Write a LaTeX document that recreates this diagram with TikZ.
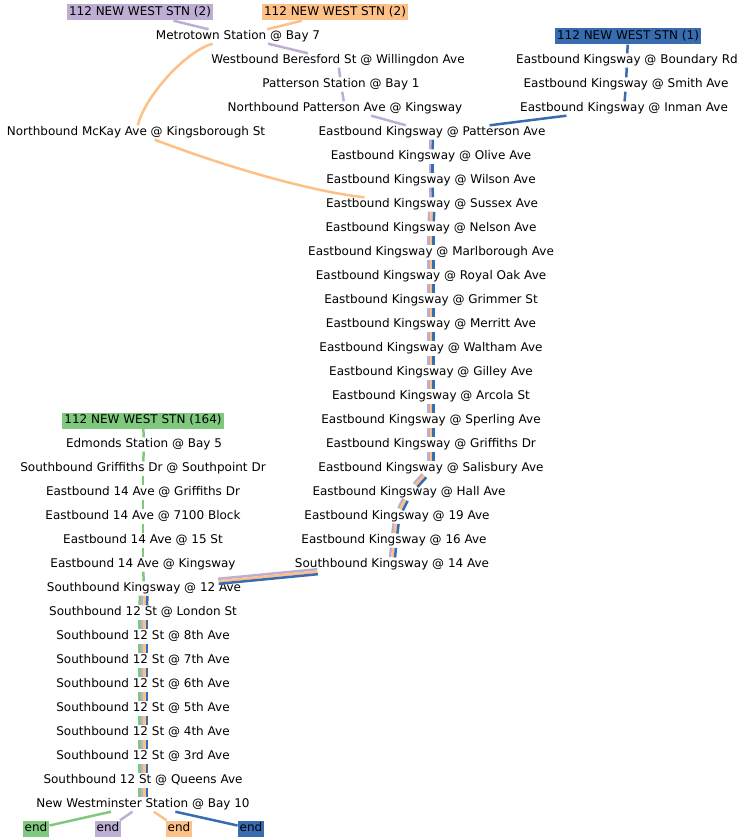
\documentclass[tikz,border=0pt]{standalone}
\usepackage{fontspec}
\setmainfont{DejaVu Sans}
\definecolor{routegreen}{HTML}{7FC97F}
\definecolor{routepurple}{HTML}{BEAED4}
\definecolor{routeorange}{HTML}{FDC086}
\definecolor{routeblue}{HTML}{386CB0}

% #1 stripes, #2 colours, #3 from, #4 to
\newcommand{\routeedge}[4]{%
  \pgfpointdiff{\pgfpointanchor{#3}{center}}{\pgfpointanchor{#4}{center}}%
  \pgfgetlastxy{\routedx}{\routedy}%
  \pgfmathsetmacro{\perpangle}{atan2(\routedy,\routedx)+90}%
  \foreach \routecolor [count=\k] in {#2} {
    \pgfmathsetmacro{\stripeoff}{(\k-(#1+1)/2)*2.5}
    \draw[route=\routecolor,transform canvas={shift={(\perpangle:\stripeoff pt)}}] (#3) -- (#4);
  }%
}

\begin{document}
\begin{tikzpicture}[x=1pt,y=-1pt,
    stop/.style={font=\fontsize{12}{14}\selectfont,text height=9pt,text depth=3pt,inner xsep=2pt,inner ysep=1pt},
    terminus/.style={stop,fill=#1,inner ysep=2pt},
    route/.style={draw=#1,line width=2.5pt}]
  \useasboundingbox (0,-1.5) rectangle (746,838.5);

  % route heads
  \node[terminus=routepurple] (boxP) at (140,11) {112 NEW WEST STN (2)};
  \node[terminus=routeorange] (boxO) at (335,11) {112 NEW WEST STN (2)};
  \node[terminus=routeblue] (boxB) at (628,35) {112 NEW WEST STN (1)};
  \node[terminus=routegreen] (boxG) at (143,419) {112 NEW WEST STN (164)};

  \foreach \name/\x/\y/\stoplabel in {
    metrotown/238/35/Metrotown Station @ Bay 7,
    beresford/338/59/Westbound Beresford St @ Willingdon Ave,
    boundary/627/59/Eastbound Kingsway @ Boundary Rd,
    pattersonstn/341/83/Patterson Station @ Bay 1,
    smith/626/83/Eastbound Kingsway @ Smith Ave,
    nbpatterson/345/107/Northbound Patterson Ave @ Kingsway,
    inman/624/107/Eastbound Kingsway @ Inman Ave,
    mckay/136/131/Northbound McKay Ave @ Kingsborough St,
    ekpatterson/432/131/Eastbound Kingsway @ Patterson Ave,
    olive/431/155/Eastbound Kingsway @ Olive Ave,
    wilson/431/179/Eastbound Kingsway @ Wilson Ave,
    sussex/432/203/Eastbound Kingsway @ Sussex Ave,
    nelson/431/227/Eastbound Kingsway @ Nelson Ave,
    marlborough/431/251/Eastbound Kingsway @ Marlborough Ave,
    royaloak/431/275/Eastbound Kingsway @ Royal Oak Ave,
    grimmer/431/299/Eastbound Kingsway @ Grimmer St,
    merritt/431/323/Eastbound Kingsway @ Merritt Ave,
    waltham/431/347/Eastbound Kingsway @ Waltham Ave,
    gilley/431/371/Eastbound Kingsway @ Gilley Ave,
    arcola/431/395/Eastbound Kingsway @ Arcola St,
    sperling/431/419/Eastbound Kingsway @ Sperling Ave,
    griffithsdr/431/443/Eastbound Kingsway @ Griffiths Dr,
    edmonds/144/443/Edmonds Station @ Bay 5,
    salisbury/431/467/Eastbound Kingsway @ Salisbury Ave,
    southpoint/143/467/Southbound Griffiths Dr @ Southpoint Dr,
    hall/409/491/Eastbound Kingsway @ Hall Ave,
    griffiths14/143/491/Eastbound 14 Ave @ Griffiths Dr,
    ave19/397/515/Eastbound Kingsway @ 19 Ave,
    block7100/143/515/Eastbound 14 Ave @ 7100 Block,
    ave16/394/539/Eastbound Kingsway @ 16 Ave,
    st15/143/539/Eastbound 14 Ave @ 15 St,
    sbk14/392/563/Southbound Kingsway @ 14 Ave,
    kingsway14/143/563/Eastbound 14 Ave @ Kingsway,
    sbk12/144/587/Southbound Kingsway @ 12 Ave,
    london/143/611/Southbound 12 St @ London St,
    eighth/143/635/Southbound 12 St @ 8th Ave,
    seventh/143/659/Southbound 12 St @ 7th Ave,
    sixth/143/683/Southbound 12 St @ 6th Ave,
    fifth/143/707/Southbound 12 St @ 5th Ave,
    fourth/143/731/Southbound 12 St @ 4th Ave,
    third/143/755/Southbound 12 St @ 3rd Ave,
    queens/143/779/Southbound 12 St @ Queens Ave,
    nwstation/143/803/New Westminster Station @ Bay 10} {
    \node[stop] (\name) at (\x,\y) {\stoplabel};
  }

  \node[terminus=routegreen] (endG) at (36,827) {end};
  \node[terminus=routepurple] (endP) at (108,827) {end};
  \node[terminus=routeorange] (endO) at (179,827) {end};
  \node[terminus=routeblue] (endB) at (251,827) {end};

  % single routes
  \foreach \a/\b in {boxP/metrotown,metrotown/beresford,beresford/pattersonstn,
      pattersonstn/nbpatterson,nbpatterson/ekpatterson,nwstation/endP}
    \routeedge{1}{routepurple}{\a}{\b};
  \foreach \a/\b in {boxO/metrotown,nwstation/endO}
    \routeedge{1}{routeorange}{\a}{\b};
  \draw[route=routeorange] (metrotown) .. controls (185,50) and (145,95) .. (mckay);
  \draw[route=routeorange] (mckay) .. controls (222,164) and (310,190) .. (sussex);
  \foreach \a/\b in {boxB/boundary,boundary/smith,smith/inman,inman/ekpatterson,nwstation/endB}
    \routeedge{1}{routeblue}{\a}{\b};
  \foreach \a/\b in {boxG/edmonds,edmonds/southpoint,southpoint/griffiths14,griffiths14/block7100,
      block7100/st15,st15/kingsway14,kingsway14/sbk12,nwstation/endG}
    \routeedge{1}{routegreen}{\a}{\b};

  % shared stretches
  \foreach \a/\b in {ekpatterson/olive,olive/wilson,wilson/sussex}
    \routeedge{2}{routepurple,routeblue}{\a}{\b};
  \foreach \a/\b in {sussex/nelson,nelson/marlborough,marlborough/royaloak,royaloak/grimmer,
      grimmer/merritt,merritt/waltham,waltham/gilley,gilley/arcola,arcola/sperling,
      sperling/griffithsdr,griffithsdr/salisbury,salisbury/hall,hall/ave19,ave19/ave16,
      ave16/sbk14,sbk14/sbk12}
    \routeedge{3}{routepurple,routeorange,routeblue}{\a}{\b};
  \foreach \a/\b in {sbk12/london,london/eighth,eighth/seventh,seventh/sixth,sixth/fifth,
      fifth/fourth,fourth/third,third/queens,queens/nwstation}
    \routeedge{4}{routegreen,routepurple,routeorange,routeblue}{\a}{\b};
\end{tikzpicture}
\end{document}
